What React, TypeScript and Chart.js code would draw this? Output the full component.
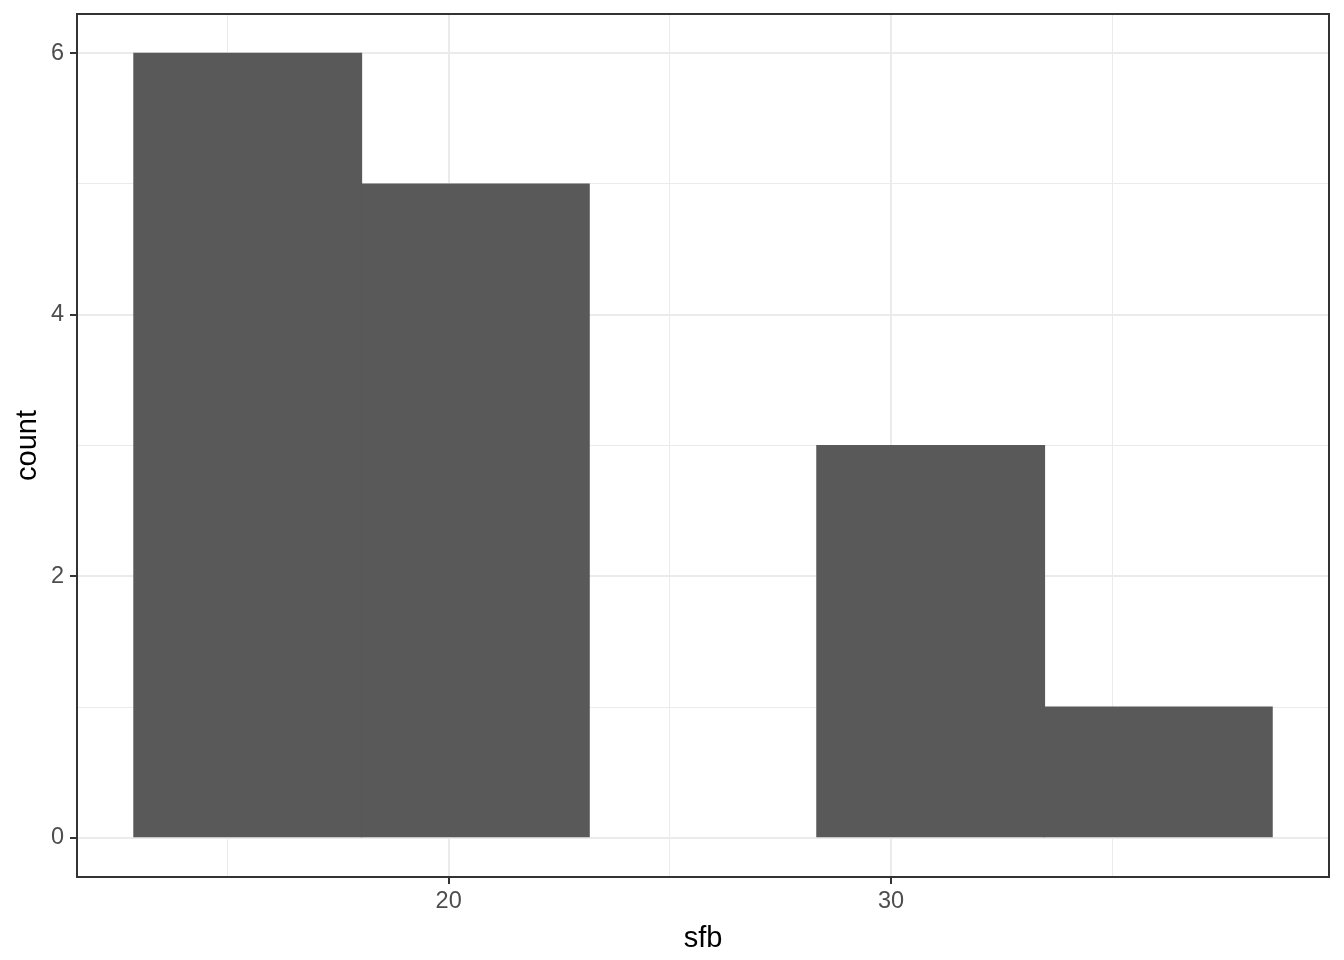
import React, { useEffect, useRef } from "react";
import { Chart, registerables } from "chart.js";

Chart.register(...registerables);

// Histogram data (bin centres and counts)
const binCenters = [15.458, 20.604, 25.75, 30.896, 36.042];
const counts = [6, 5, 0, 3, 1];

// Axis ticks
const xMajorTicks = [20, 30];
const xMinorTicks = [15, 25, 35];
const yMajorTicks = [0, 2, 4, 6];
const yMinorTicks = [1, 3, 5];
const xTickStep = 5;

// Axis ranges (ggplot-style 5% expansion of the data range)
const xRange = [11.599, 39.9];
const yRange = [-0.3, 6.3];

const xTitle = "sfb";
const yTitle = "count";

const FONT = "'Liberation Sans', Arial, Helvetica, sans-serif";
const GRID = "#EBEBEB";
const DARK = "#333333";
const TICK_TEXT = "#4D4D4D";
const BAR = "#595959";

const panelBorder = {
  id: "panelBorder",
  afterDraw(chart: any) {
    const { ctx, chartArea } = chart;
    const { left, top, right, bottom } = chartArea;
    ctx.save();
    ctx.strokeStyle = DARK;
    ctx.lineWidth = 2;
    ctx.strokeRect(left, top, right - left, bottom - top);
    ctx.restore();
  },
};

export default function App() {
  const canvasRef = useRef<HTMLCanvasElement | null>(null);

  useEffect(() => {
    if (!canvasRef.current) return;
    const binWidth = binCenters[1] - binCenters[0];
    const allX = [...xMajorTicks, ...xMinorTicks].sort((a, b) => a - b);
    const allY = [...yMajorTicks, ...yMinorTicks].sort((a, b) => a - b);

    const chart = new Chart(canvasRef.current, {
      type: "bar",
      data: {
        datasets: [
          {
            data: binCenters.map((x, i) => ({ x, y: counts[i] })),
            backgroundColor: (c: any) => (c.raw && c.raw.y === 0 ? "rgba(0,0,0,0)" : BAR),
            borderWidth: 0,
            inflateAmount: (c: any) => (c.raw && c.raw.y === 0 ? 0 : 0.6),
            barPercentage: binWidth / xTickStep,
            categoryPercentage: 1,
          },
        ],
      },
      plugins: [panelBorder],
      options: {
        responsive: false,
        animation: false,
        devicePixelRatio: 1,
        layout: { padding: { left: 0, top: 14, right: 15, bottom: 0 } },
        plugins: { legend: { display: false }, tooltip: { enabled: false } },
        scales: {
          x: {
            type: "linear",
            min: xRange[0],
            max: xRange[1],
            offset: false,
            afterBuildTicks: (scale: any) => {
              scale.ticks = allX.map((v) => ({ value: v }));
            },
            afterFit: (scale: any) => {
              scale.height = 83;
              scale.paddingLeft = 0;
              scale.paddingRight = 0;
            },
            grid: {
              offset: false,
              color: GRID,
              lineWidth: (c: any) => (xMajorTicks.includes(c.tick?.value) ? 2 : 1),
              tickColor: (c: any) =>
                xMajorTicks.includes(c.tick?.value) ? DARK : "rgba(0,0,0,0)",
              tickWidth: 2,
              tickLength: 7,
              drawTicks: true,
            },
            border: { display: false },
            ticks: {
              autoSkip: false,
              maxRotation: 0,
              padding: 3,
              color: TICK_TEXT,
              font: { family: FONT, size: 23.5 },
              callback: (v: any) => (xMajorTicks.includes(Number(v)) ? String(v) : ""),
            },
            title: {
              display: true,
              text: xTitle,
              color: "#000000",
              font: { family: FONT, size: 29 },
              padding: { top: 0, bottom: 4 },
            },
          },
          y: {
            type: "linear",
            min: yRange[0],
            max: yRange[1],
            afterBuildTicks: (scale: any) => {
              scale.ticks = allY.map((v) => ({ value: v }));
            },
            afterFit: (scale: any) => {
              scale.width = 77;
              scale.paddingTop = 0;
              scale.paddingBottom = 0;
            },
            grid: {
              color: GRID,
              lineWidth: (c: any) => (yMajorTicks.includes(c.tick?.value) ? 2 : 1),
              tickColor: (c: any) =>
                yMajorTicks.includes(c.tick?.value) ? DARK : "rgba(0,0,0,0)",
              tickWidth: 2,
              tickLength: 7,
              drawTicks: true,
            },
            border: { display: false },
            ticks: {
              autoSkip: false,
              padding: 6,
              color: TICK_TEXT,
              font: { family: FONT, size: 23.5 },
              callback: (v: any) => (yMajorTicks.includes(Number(v)) ? String(v) : ""),
            },
            title: {
              display: true,
              text: yTitle,
              color: "#000000",
              font: { family: FONT, size: 29 },
              padding: { top: 11, bottom: 0 },
            },
          },
        },
      },
    } as any);

    return () => chart.destroy();
  }, []);

  return (
    <div style={{ position: "absolute", left: 0, top: 0, width: 1344, height: 960, background: "#ffffff" }}>
      <canvas ref={canvasRef} width={1344} height={960} style={{ display: "block" }} />
    </div>
  );
}
